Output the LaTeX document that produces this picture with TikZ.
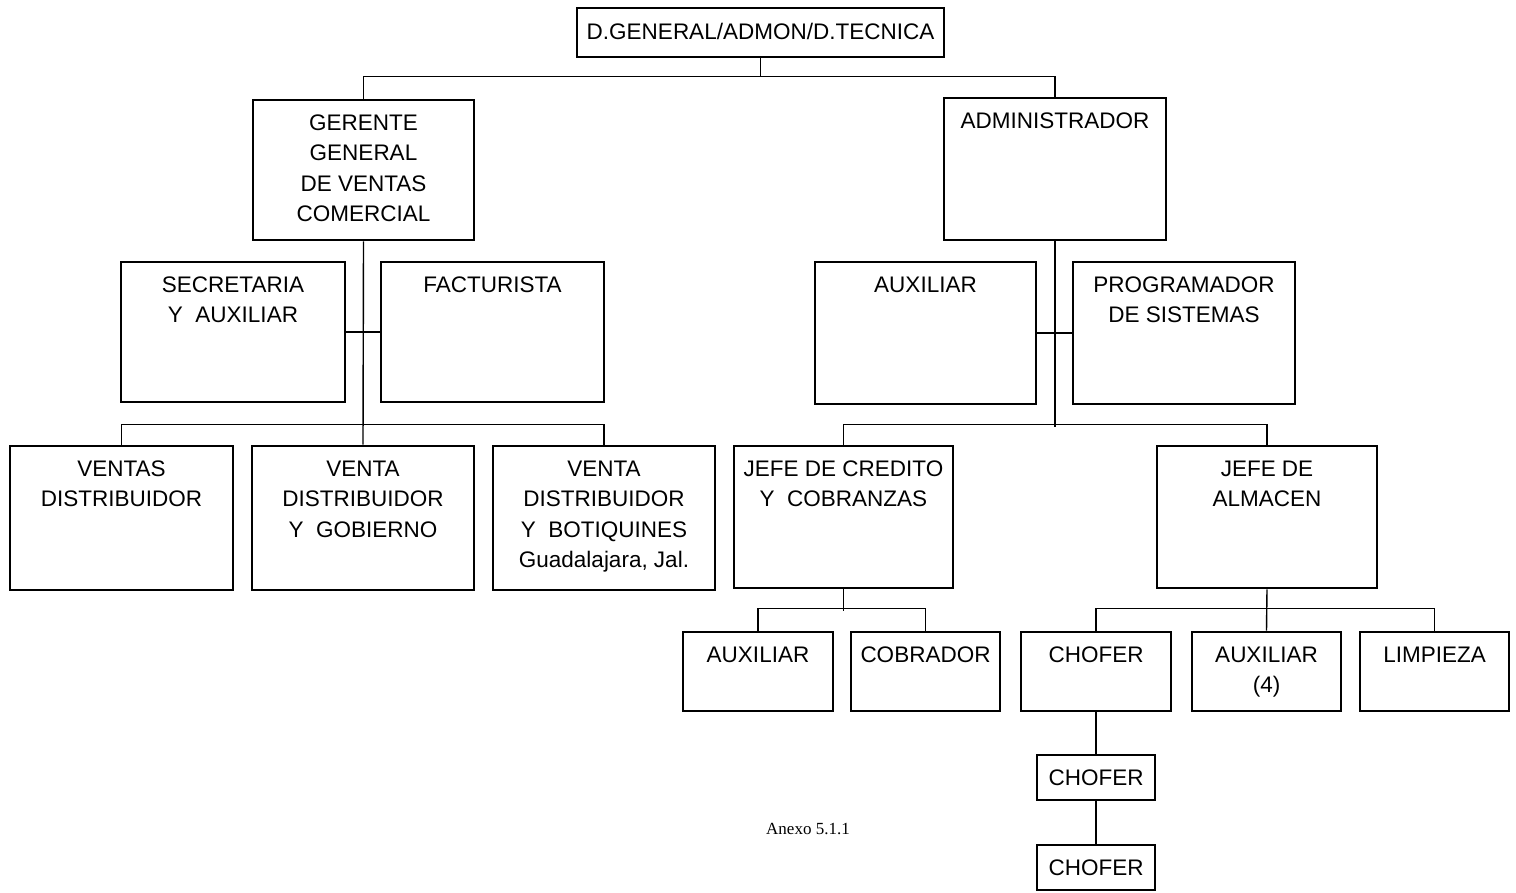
\documentclass[tikz,border=0pt]{standalone}
\usepackage{fontspec}
\setmainfont{Liberation Sans}
\newfontfamily\anexofont{Liberation Serif}
\usetikzlibrary{calc}
\newcommand\obox[6]{%
  \node[orgbox,minimum width={#4-#2},minimum height={#5-#3}] (#1) at ({(#2+#4)/2},{(#3+#5)/2}) {};
  \node[orgtext] (#1-t) at ($(#1.north)+(0,16)$) {#6};}
\begin{document}
\begin{tikzpicture}[x=1pt,y=-1pt,
  orgbox/.style={draw,line width=2.9pt,inner sep=0pt},
  orgtext/.style={anchor=north,inner sep=0pt,align=center,
    font=\fontsize{22.5}{30.5}\selectfont},
  link/.style={line width=1.4pt}]
\useasboundingbox (0,0) rectangle (1516,892);
\obox{top}{577}{8}{944}{57}{D.GENERAL/ADMON/D.TECNICA}
\obox{gerente}{253}{100}{474}{240}{GERENTE\\GENERAL\\DE VENTAS\\COMERCIAL}
\obox{admin}{944}{98}{1166}{240}{ADMINISTRADOR}
\obox{sec}{121}{262}{345}{402}{SECRETARIA\\Y\ \ AUXILIAR}
\obox{fact}{381}{262}{604}{402}{FACTURISTA}
\obox{auxa}{815}{262}{1036}{404}{AUXILIAR}
\obox{prog}{1073}{262}{1295}{404}{PROGRAMADOR\\DE SISTEMAS}
\obox{ventas}{10}{446}{233}{590}{VENTAS\\DISTRIBUIDOR}
\obox{gob}{252}{446}{474}{590}{VENTA\\DISTRIBUIDOR\\Y\ \ GOBIERNO}
\obox{bot}{493}{446}{715}{590}{VENTA\\DISTRIBUIDOR\\Y\ \ BOTIQUINES\\Guadalajara, Jal.}
\obox{credito}{734}{446}{953}{588}{JEFE DE CREDITO\\Y\ \ COBRANZAS}
\obox{almacen}{1157}{446}{1377}{588}{JEFE DE\\ALMACEN}
\obox{auxb}{683}{632}{833}{711}{AUXILIAR}
\obox{cobrador}{851}{632}{1000}{711}{COBRADOR}
\obox{chofera}{1021}{632}{1171}{711}{CHOFER}
\obox{auxc}{1192}{632}{1341}{711}{AUXILIAR\\(4)}
\obox{limpieza}{1360}{632}{1509}{711}{LIMPIEZA}
\obox{choferb}{1037}{755}{1155}{800}{CHOFER}
\obox{choferc}{1037}{845}{1155}{890}{CHOFER}
\node[font=\anexofont\fontsize{17}{20}\selectfont,inner sep=0pt] (anexo) at (808,829) {Anexo 5.1.1};
% connectors
\draw[link] (top.south) -- ++(0,18) coordinate (tj);
\draw[link] (gerente.north) |- (tj) -| (admin.north);
\draw[link] (gerente.south) -- (gob.north);
\draw[link] (sec.east) -- (fact.west);
\draw[link] (ventas.north) -- ++(0,-20) -| (bot.north);
\draw[link] (admin.south) -- ++(0,186);
\draw[link] (auxa.east) -- (prog.west);
\draw[link] (credito.north) -- ++(0,-20) -| (almacen.north);
\draw[link] (credito.south) -- ++(0,22);
\draw[link] (auxb.north) -- ++(0,-22) -| (cobrador.north);
\draw[link] (almacen.south) -- (auxc.north);
\draw[link] (chofera.north) -- ++(0,-22) -| (limpieza.north);
\draw[link] (chofera.south) -- (choferb.north);
\draw[link] (choferb.south) -- (choferc.north);
\end{tikzpicture}
\end{document}
